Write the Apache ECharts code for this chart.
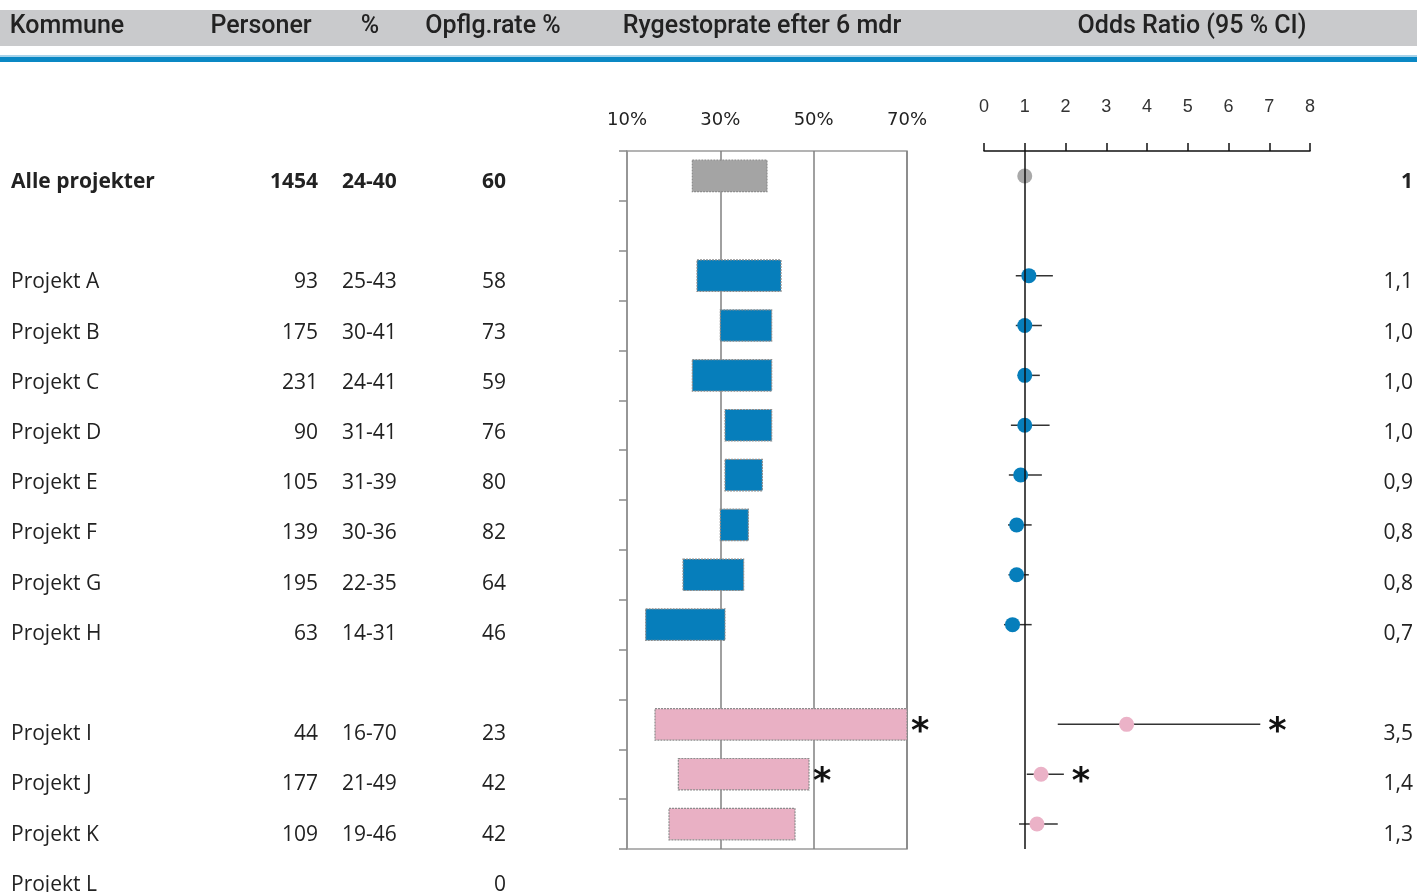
<!DOCTYPE html>
<html lang="da">
<head>
<meta charset="utf-8">
<title>Rygestoprate og odds ratio pr. projekt</title>
<script src="https://cdn.jsdelivr.net/npm/echarts@6.0.0/dist/echarts.min.js"></script>
<style>
  html, body { margin: 0; padding: 0; background: #ffffff; }
  #chart { width: 1417px; height: 892px; }
</style>
</head>
<body>
<div id="chart"></div>
<script>
// ---- Data -------------------------------------------------------------
// One entry per table row; empty names are spacer rows between groups.
const rowNames = ['Alle projekter', '', 'Projekt A', 'Projekt B', 'Projekt C', 'Projekt D',
  'Projekt E', 'Projekt F', 'Projekt G', 'Projekt H', '', 'Projekt I', 'Projekt J',
  'Projekt K', 'Projekt L'];
const rowGroup = ['total', null, 'blue', 'blue', 'blue', 'blue', 'blue', 'blue', 'blue', 'blue',
  null, 'pink', 'pink', 'pink', null];
const persons = [1454, null, 93, 175, 231, 90, 105, 139, 195, 63, null, 44, 177, 109, null];
// Smoking cessation rate after 6 months, 95 % interval (low-high, %)
const rateLow = [24, null, 25, 30, 24, 31, 31, 30, 22, 14, null, 16, 21, 19, null];
const rateHigh = [40, null, 43, 41, 41, 41, 39, 36, 35, 31, null, 70, 49, 46, null];
// Follow-up rate (%)
const followUp = [60, null, 58, 73, 59, 76, 80, 82, 64, 46, null, 23, 42, 42, 0];
// Odds ratio with 95 % CI
const oddsRatio = [1, null, 1.1, 1.0, 1.0, 1.0, 0.9, 0.8, 0.8, 0.7, null, 3.5, 1.4, 1.3, null];
const ciLow = [null, null, 0.78, 0.78, 0.83, 0.66, 0.61, 0.59, 0.60, 0.49, null, 1.81, 1.05, 0.86, null];
const ciHigh = [null, null, 1.69, 1.42, 1.37, 1.61, 1.42, 1.17, 1.10, 1.17, null, 6.78, 1.96, 1.81, null];
const significant = [false, false, false, false, false, false, false, false, false, false,
  false, true, true, false, false];

const headerLabels = ['Kommune', 'Personer', '%', 'Opflg.rate %', 'Rygestoprate efter 6 mdr', 'Odds Ratio (95 % CI)'];
const rateTicks = [10, 30, 50, 70];
const orTicks = [0, 1, 2, 3, 4, 5, 6, 7, 8];

// ---- Styling --------------------------------------------------------------
const COLORS = {
  total: '#A4A4A4',
  blue: '#067EBB',
  pink: '#E9B0C4'
};
const DOT_COLORS = {
  total: '#A9A9A9',
  blue: '#067EBB',
  pink: '#EBB2C7'
};
const TEXT = '#222222';
const BODY_FONT = "'Open Sans', 'Noto Sans', sans-serif";
const HEAD_FONT = "Roboto, 'Noto Sans', sans-serif";

// Rows drawn inside the two plot panels (the last table row has no plot row)
const plotRowCount = 14;
const plotKeys = rowNames.slice(0, plotRowCount).map((n, i) => n || ('row' + i));
const tableKeys = rowNames.map((n, i) => n || ('row' + i));

const fmtComma = v => v.toFixed(1).replace('.', ',');

// ---- Series data ------------------------------------------------------------
const rateData = [];
const orData = [];
for (let i = 0; i < plotRowCount; i++) {
  if (rateLow[i] != null) rateData.push([rateLow[i], rateHigh[i], i]);
  if (oddsRatio[i] != null) orData.push([oddsRatio[i], i]);
}
const tableData = rowNames.map((n, i) => [0, i]);

const chart = echarts.init(document.getElementById('chart'), null, { renderer: 'canvas' });

function asterisk(x, y) {
  return {
    type: 'text',
    z2: 20,
    style: {
      text: '*', x: x, y: y + 9,
      font: "bold 35px 'DejaVu Sans', sans-serif",
      fill: '#111', align: 'left', verticalAlign: 'middle'
    }
  };
}

const option = {
  backgroundColor: '#ffffff',
  animation: false,
  grid: [
    { left: 627, top: 151, width: 280, height: 698, show: true, borderColor: '#9a9a9a', borderWidth: 1.5,
      containLabel: false, outerBoundsMode: 'none' },
    { left: 984, top: 151, width: 326, height: 698, containLabel: false, outerBoundsMode: 'none' },
    { left: 0, top: 156, width: 560, height: 753, containLabel: false, outerBoundsMode: 'none' }
  ],
  xAxis: [
    {
      gridIndex: 0, type: 'value', position: 'top', min: 10, max: 70, interval: 20,
      axisLine: { show: false },
      axisTick: { show: false },
      axisLabel: {
        margin: 22, color: '#222', fontSize: 18, fontFamily: "'DejaVu Sans', sans-serif",
        formatter: v => (rateTicks.indexOf(v) >= 0 ? v + '%' : '')
      },
      splitLine: { show: true, lineStyle: { color: '#808080', width: 1.5 } }
    },
    {
      gridIndex: 1, type: 'value', position: 'top', min: 0, max: 8, interval: 1,
      axisLine: { show: true, lineStyle: { color: '#111', width: 1.5 } },
      axisTick: { show: true, length: 8, lineStyle: { color: '#111', width: 1.5 } },
      axisLabel: {
        margin: 35, color: '#333', fontSize: 18, fontFamily: "'Liberation Sans', sans-serif",
        formatter: v => (orTicks.indexOf(v) >= 0 ? String(v) : '')
      },
      splitLine: { show: false }
    },
    { gridIndex: 2, type: 'value', min: 0, max: 1, show: false }
  ],
  yAxis: [
    {
      gridIndex: 0, type: 'category', data: plotKeys, inverse: true,
      axisLine: { show: true, lineStyle: { color: '#9a9a9a', width: 1.5 } },
      axisTick: { show: true, length: 8, lineStyle: { color: '#8a8a8a', width: 1.5 } },
      axisLabel: { show: false },
      splitLine: { show: false }
    },
    { gridIndex: 1, type: 'category', data: plotKeys, inverse: true, show: false },
    { gridIndex: 2, type: 'category', data: tableKeys, inverse: true, show: false }
  ],
  graphic: [
    { type: 'rect', left: 0, top: 10, shape: { width: 1417, height: 36 }, style: { fill: '#C9CACC' }, silent: true },
    { type: 'rect', left: 0, top: 55, shape: { width: 1417, height: 2 }, style: { fill: '#A7D3EA' }, silent: true },
    { type: 'rect', left: 0, top: 57, shape: { width: 1417, height: 5 }, style: { fill: '#0A88C4' }, silent: true }
  ].concat(headerLabels.map((t, i) => {
    const centers = [67, 261, 370, 493, 762, 1192];
    return {
      type: 'text', x: centers[i], y: 27, silent: true,
      style: { text: t, font: '500 25px ' + HEAD_FONT, fill: TEXT, align: 'center', verticalAlign: 'middle' }
    };
  })),
  series: [
    {
      // Table columns: name, persons, interval, follow-up rate, odds ratio
      type: 'custom', xAxisIndex: 2, yAxisIndex: 2, data: tableData, silent: true,
      renderItem: function (params, api) {
        const i = api.value(1);
        const y = api.coord([0, i])[1] + 1;
        const bold = i === 0;
        const font = (bold ? 'bold ' : '') + '21px ' + BODY_FONT;
        const children = [];
        const add = (text, x, align) => {
          if (text === '' || text == null) return;
          children.push({ type: 'text', style: { text: String(text), x: x, y: y, font: font, fill: TEXT, align: align, verticalAlign: 'middle' } });
        };
        add(rowNames[i], 11, 'left');
        add(persons[i], 318, 'right');
        if (rateLow[i] != null) add(rateLow[i] + '-' + rateHigh[i], 342, 'left');
        add(followUp[i], 506, 'right');
        if (oddsRatio[i] != null) add(i === 0 ? String(oddsRatio[i]) : fmtComma(oddsRatio[i]), 1413, 'right');
        return { type: 'group', children: children };
      }
    },
    {
      // Cessation-rate intervals as horizontal boxes
      type: 'custom', xAxisIndex: 0, yAxisIndex: 0, data: rateData, silent: true,
      renderItem: function (params, api) {
        const i = api.value(2);
        const p0 = api.coord([api.value(0), i]);
        const p1 = api.coord([api.value(1), i]);
        const h = api.size([0, 1])[1] * 0.63;
        const children = [{
          type: 'rect',
          shape: { x: p0[0], y: p0[1] - h / 2, width: p1[0] - p0[0], height: h },
          style: { fill: COLORS[rowGroup[i]], stroke: '#8c8c8c', lineWidth: 1.2, lineDash: [2, 1] }
        }];
        if (significant[i]) children.push(asterisk(p1[0] + 4, p0[1]));
        return { type: 'group', children: children };
      }
    },
    {
      // Odds ratios with confidence intervals
      type: 'custom', xAxisIndex: 1, yAxisIndex: 1, data: orData, silent: true,
      renderItem: function (params, api) {
        const i = api.value(1);
        const c = api.coord([api.value(0), i]);
        const children = [];
        if (ciLow[i] != null) {
          const a = api.coord([ciLow[i], i]);
          const b = api.coord([ciHigh[i], i]);
          children.push({ type: 'line', shape: { x1: a[0], y1: a[1], x2: b[0], y2: b[1] },
            style: { stroke: '#333', lineWidth: 1.5 } });
          if (significant[i]) children.push(asterisk(b[0] + 8, b[1]));
        }
        children.push({ type: 'circle', shape: { cx: c[0], cy: c[1], r: 7.5 },
          style: { fill: DOT_COLORS[rowGroup[i]] }, z2: 10 });
        return { type: 'group', children: children };
      },
      markLine: {
        silent: true, symbol: 'none', animation: false,
        label: { show: false },
        lineStyle: { color: '#111', width: 1.5, type: 'solid' },
        data: [{ xAxis: 1 }]
      }
    }
  ]
};

chart.setOption(option);
</script>
</body>
</html>
